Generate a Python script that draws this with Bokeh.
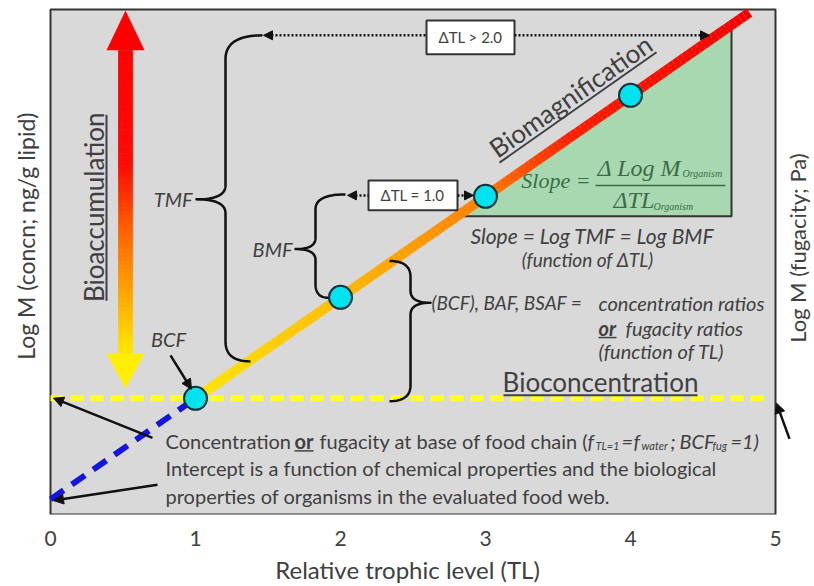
import numpy as np
from bokeh.plotting import figure
from bokeh.models import Range1d, LinearAxis, FixedTicker, Arrow, NormalHead
from bokeh.core.properties import value
from bokeh.embed import file_html
from bokeh.resources import INLINE

# ------------------------------------------------------------------ data
trophic_level = [1, 2, 3, 4]                 # organisms along the food chain
log_m_organism = [1.15, 2.15, 3.15, 4.15]    # Log M in organisms
log_m_water = 1.15                           # bioconcentration level (TL = 1)
tl_line_end = 4.82                           # biomagnification line drawn up to this TL
tl_bioconc_end = 4.94                        # bioconcentration line drawn up to this TL
x_ticks = [0, 1, 2, 3, 4, 5]
x_max, y_max = 5, 5

slope, intercept = np.polyfit(trophic_level, log_m_organism, 1)

# ------------------------------------------------------------------ layout helpers (page pixel -> data)
W, H = 814, 586
PX_TL0, PX_TL5 = 50.0, 775.0
PY_M0, PY_M5 = 517.0, 9.0


def X(px):
    v = (np.asarray(px, float) - PX_TL0) / (PX_TL5 - PX_TL0) * 5.0
    return float(v) if v.ndim == 0 else v.tolist()


def Y(py):
    v = (PY_M0 - np.asarray(py, float)) / (PY_M0 - PY_M5) * 5.0
    return float(v) if v.ndim == 0 else v.tolist()


def hex2rgb(h):
    return [int(h[i:i + 2], 16) for i in (1, 3, 5)]


def interp_colors(t, st, sc):
    rgb = np.array([hex2rgb(c) for c in sc], float)
    out = []
    for tv in t:
        r, g, b = (np.interp(tv, st, rgb[:, k]) for k in range(3))
        out.append("#%02x%02x%02x" % (int(round(r)), int(round(g)), int(round(b))))
    return out


DARK = "#404040"
INK = "#111111"
FONT = "Lato"
TOP_PX, BOT_PX = 7, 517

p = figure(width=W, height=H, x_range=Range1d(X(0), X(W)), y_range=Range1d(0, Y(TOP_PX)),
           x_axis_type=None, y_axis_type=None, output_backend="svg", toolbar_location=None,
           min_border_left=0, min_border_right=0, min_border_top=TOP_PX,
           min_border_bottom=H - BOT_PX)
p.background_fill_color = "white"
p.border_fill_color = "white"
p.outline_line_color = None

# ------------------------------------------------------------------ x axis
xa = LinearAxis(ticker=FixedTicker(ticks=x_ticks), axis_label="Relative trophic level (TL)")
xa.axis_line_color = None
xa.major_tick_line_color = None
xa.minor_tick_line_color = None
xa.major_tick_out = 0
xa.major_tick_in = 0
xa.major_label_text_font = FONT
xa.major_label_text_color = DARK
xa.major_label_text_font_size = "21px"
xa.major_label_standoff = 16
xa.axis_label_text_font = FONT
xa.axis_label_text_font_style = "normal"
xa.axis_label_text_color = DARK
xa.axis_label_text_font_size = "24px"
xa.axis_label_standoff = 6
p.add_layout(xa, "below")

# ------------------------------------------------------------------ plot area (grey panel)
p.quad(left=[0], right=[x_max], bottom=[0], top=[y_max], fill_color="#d9d9d9",
       line_color="#333333", line_width=2)

# ------------------------------------------------------------------ green slope triangle
y_bot = Y(217)
x_left = (y_bot - intercept) / slope
x_right = X(731)
y_top = intercept + slope * x_right
p.patch([x_left, x_right, x_right], [y_bot, y_bot, y_top],
        fill_color="#a8d8b0", line_color="#333333", line_width=2)

# ------------------------------------------------------------------ bioconcentration (yellow dashed) and intercept (blue dashed)
p.line([0, tl_bioconc_end], [log_m_water, log_m_water], line_color="#ffff26",
       line_width=6, line_dash="13 7")
p.line([0, trophic_level[0]], [intercept, intercept + slope * trophic_level[0]],
       line_color="#1515e0", line_width=6, line_dash="16 10")

# ------------------------------------------------------------------ biomagnification line with colour gradient
tl_seg = np.linspace(trophic_level[0], tl_line_end, 120)
lm_seg = intercept + slope * tl_seg
mid = (tl_seg[:-1] + tl_seg[1:]) / 2
seg_cols = interp_colors(mid, [1.0, 1.5, 2.0, 2.5, 3.0, 3.3, 3.6, 4.8],
                         ["#ffe600", "#ffd000", "#ffbb00", "#ff9c00", "#ff7d00",
                          "#ff4a00", "#ff1e00", "#f50000"])
p.segment(x0=tl_seg[:-1], y0=lm_seg[:-1], x1=tl_seg[1:], y1=lm_seg[1:],
          line_color=seg_cols, line_width=10)

# ------------------------------------------------------------------ bioaccumulation double arrow (gradient)
ax_c = X(125)
half_shaft = X(125 + 7) - ax_c
half_head = X(125 + 19) - ax_c
py_edges = np.linspace(50, 355, 80)
py_mid = (py_edges[:-1] + py_edges[1:]) / 2
arrow_stops_py = [10, 165, 230, 290, 345, 390]
arrow_stops_c = ["#ff0000", "#ff0a00", "#ff6000", "#ffa000", "#ffdd00", "#ffff00"]
sh_cols = interp_colors(py_mid, arrow_stops_py, arrow_stops_c)
p.quad(left=ax_c - half_shaft, right=ax_c + half_shaft, top=Y(py_edges[:-1]),
       bottom=Y(py_edges[1:]), fill_color=sh_cols, line_color=sh_cols, line_width=0.8)
p.patch([ax_c - half_head, ax_c + half_head, ax_c], [Y(50), Y(50), Y(10)],
        fill_color="#ff0000", line_color=None)
p.patch([ax_c - half_head, ax_c + half_head, ax_c], [Y(355), Y(355), Y(390)],
        fill_color="#ffee00", line_color=None)

# ------------------------------------------------------------------ curly braces


def qbez(a, c, b, n=24):
    t = np.linspace(0, 1, n)[:, None]
    a, c, b = np.array(a, float), np.array(c, float), np.array(b, float)
    return (1 - t) ** 2 * a + 2 * (1 - t) * t * c + t ** 2 * b


def brace(top, bot, xv, tip, r_top, r_tip, r_bot):
    (x1, y1), (x2, y2), (xt, yt) = top, bot, tip
    pts = np.vstack([
        qbez((x1, y1), (xv, y1), (xv, y1 + r_top)),
        [[xv, y1 + r_top], [xv, yt - r_tip]],
        qbez((xv, yt - r_tip), (xv, yt), (xt, yt)),
        qbez((xt, yt), (xv, yt), (xv, yt + r_tip)),
        [[xv, yt + r_tip], [xv, y2 - r_bot]],
        qbez((xv, y2 - r_bot), (xv, y2), (x2, y2)),
    ])
    p.line(X(pts[:, 0]), Y(pts[:, 1]), line_color=INK, line_width=2.5, line_join="round")


brace((262, 35), (250, 363), 225, (196, 200), 24, 14, 20)   # TMF
brace((345, 195), (328, 299), 315, (295, 250), 15, 11, 14)  # BMF
brace((389, 262), (389, 403), 410, (430, 304), 16, 12, 16)  # BCF, BAF, BSAF

# ------------------------------------------------------------------ boxes for delta TL
p.quad(left=[X(426), X(368)], right=[X(514), X(457)], top=[Y(20), Y(181)],
       bottom=[Y(54), Y(211)], fill_color="white", line_color="#333333", line_width=2)

# ------------------------------------------------------------------ cyan organism points
p.scatter(trophic_level, log_m_organism, size=23, fill_color="#00e3ee",
          line_color="#0b3340", line_width=2)

# ------------------------------------------------------------------ arrows


def arrow(x0, y0, x1, y1, dotted=False, start=False, end=True, size=10, lw=2.5):
    kw = dict(x_start=X(x0), y_start=Y(y0), x_end=X(x1), y_end=Y(y1),
              line_color=INK, line_width=lw)
    if dotted:
        kw["line_dash"] = "2 2"
    kw["start"] = NormalHead(size=size, fill_color=INK, line_color=INK, line_width=1) if start else None
    kw["end"] = NormalHead(size=size, fill_color=INK, line_color=INK, line_width=1) if end else None
    p.add_layout(Arrow(**kw))


arrow(263, 35, 426, 35, dotted=True, start=True, end=False, size=9)
arrow(514, 35, 709, 35, dotted=True, start=False, end=True, size=9)
arrow(347, 196, 368, 196, dotted=True, start=True, end=False, size=9)
arrow(457, 196, 473, 196, dotted=True, start=False, end=True, size=9)
arrow(170, 357, 191, 391)            # BCF
arrow(152, 440, 53, 400)             # to bioconcentration level at axis
arrow(157, 487, 53, 503)             # to intercept
arrow(789, 441, 776, 405)            # right axis

# ------------------------------------------------------------------ texts


def txt(px, py, s, size="20px", style="normal", align="left", color=DARK, font=FONT, angle=0.0):
    p.text(x=[X(px)], y=[Y(py)], text=[s], text_font=value(font), text_font_size=size,
           text_font_style=style, text_align=align, text_baseline="middle",
           text_color=color, angle=angle)


def uline(x0, y0, x1, y1, lw=2):
    p.line([X(x0), X(x1)], [Y(y0), Y(y1)], line_color=DARK, line_width=lw)


# axis titles (vertical)
txt(25, 237, "Log M (concn; ng/g lipid)", size="23px", align="center", angle=np.pi / 2)
txt(797, 249, "Log M (fugacity; Pa)", size="22px", align="center", angle=np.pi / 2)

# big labels
txt(93, 208, "Bioaccumulation", size="26px", align="center", angle=np.pi / 2)
uline(106, 115, 106, 302)
ang = float(np.arctan2(slope * (PY_M0 - PY_M5) / 5.0, (PX_TL5 - PX_TL0) / 5.0))
txt(570, 96, "Biomagnification", size="26px", align="center", angle=ang)
uline(499, 163, 656, 52)
txt(600, 384, "Bioconcentration", size="26px", align="center")
uline(503, 397, 697, 397)

txt(470, 37, "\u0394TL > 2.0", size="15px", align="center")
txt(412, 196, "\u0394TL = 1.0", size="15px", align="center")

txt(192, 200, "TMF", style="italic", align="right")
txt(292, 250, "BMF", style="italic", align="right")
txt(168, 340, "BCF", style="italic", align="center")

txt(431, 304, "(BCF), BAF, BSAF =", size="19px", style="italic")
txt(598, 304, "concentration ratios", style="italic")
txt(598, 329, "or", style="bold italic")
uline(598, 339, 616, 339, lw=1.5)
txt(625, 329, "fugacity ratios", style="italic")
txt(598, 353, "(function of TL)", style="italic")

txt(592, 236, "Slope = Log TMF = Log BMF", size="21px", style="italic", align="center")
txt(587, 260, "(function of \u0394TL)", size="19px", style="italic", align="center")

# slope formula in green box
GREEN = "#3b6c45"
SERIF = "Liberation Serif"
txt(590, 181, "Slope =", size="22px", style="italic", align="right", color=GREEN, font=SERIF)
txt(597, 168, "\u0394 Log M", size="24px", style="italic", color=GREEN, font=SERIF)
txt(682, 174, "Organism", size="10px", style="italic", color=GREEN, font=SERIF)
p.line([X(595), X(725)], [Y(186), Y(186)], line_color=GREEN, line_width=1.5)
txt(613, 201, "\u0394TL", size="24px", style="italic", color=GREEN, font=SERIF)
txt(653, 207, "Organism", size="10px", style="italic", color=GREEN, font=SERIF)

# bottom explanatory text
txt(165, 443, "Concentration")
txt(294, 443, "or", style="bold")
uline(294, 453, 313, 453, lw=1.5)
txt(319, 443, "fugacity at base of food chain (")
txt(587, 443, "f", style="italic")
txt(595, 448, "TL=1", size="11px", style="italic")
txt(621, 443, "=", style="italic")
txt(633, 443, "f", style="italic")
txt(641, 448, "water", size="11px", style="italic")
txt(670, 443, ";", style="italic")
txt(679, 443, "BCF", style="italic")
txt(712, 448, "fug", size="11px", style="italic")
txt(730, 443, "=1)", style="italic")
txt(165, 470, "Intercept is a function of chemical properties and the biological")
txt(165, 498, "properties of organisms in the evaluated food web.")

open("out.html", "w").write(file_html(p, INLINE))
